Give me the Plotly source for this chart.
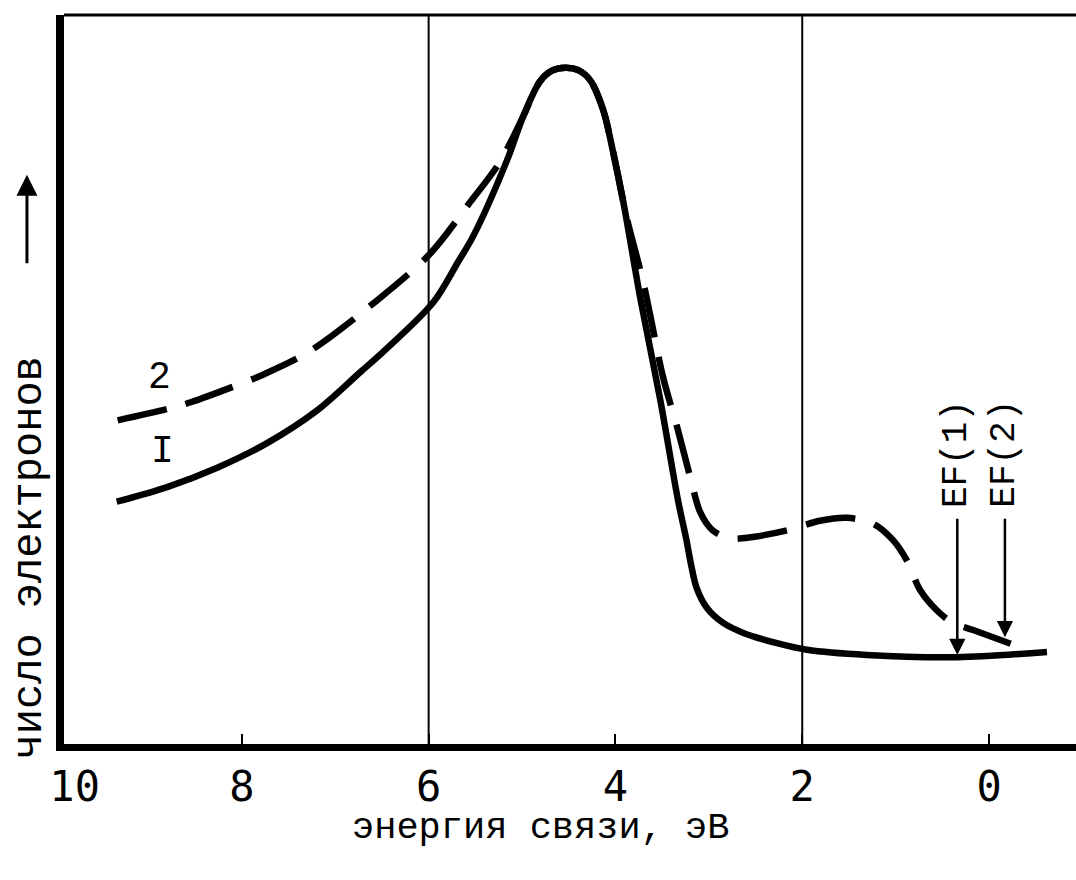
import plotly.graph_objects as go

# ---- data ----
energy_1 = [9.34, 8.80, 8.27, 7.73, 7.19, 6.73, 6.49, 5.95, 5.69, 5.52, 5.16, 4.99, 4.81,
            4.68, 4.54, 4.40, 4.27, 4.13, 4.03, 3.92, 3.73, 3.52, 3.33, 3.24, 3.19, 3.13,
            3.02, 2.85, 2.63, 2.27, 1.95, 1.31, 0.34, -0.62]
counts_1 = [33.6, 35.6, 38.2, 41.6, 46.1, 51.3, 54.0, 60.8, 66.2, 69.9, 80.2, 86.1, 90.9,
            92.4, 92.8, 92.5, 91.1, 87.0, 81.6, 74.8, 61.1, 47.5, 33.8, 28.4, 25.0, 21.8,
            19.1, 17.1, 15.7, 14.3, 13.4, 12.7, 12.4, 13.1]

energy_2 = [9.33, 8.75, 8.54, 7.99, 7.78, 7.29, 6.55, 5.98, 5.56, 5.24, 4.99, 4.81,
            4.68, 4.54, 4.40, 4.27, 4.13, 4.03, 3.88, 3.70, 3.49, 3.34, 3.20, 3.09,
            2.96, 2.77, 2.53, 2.16, 1.81, 1.52, 1.24, 1.03, 0.88, 0.74, 0.56, 0.39,
            0.17, -0.26]
counts_2 = [44.7, 46.4, 47.2, 49.8, 50.9, 54.0, 61.1, 67.5, 74.4, 79.9, 86.1, 90.9,
            92.4, 92.8, 92.5, 91.1, 87.0, 81.6, 72.4, 63.4, 50.6, 43.8, 37.0, 32.1,
            29.7, 28.6, 28.8, 29.7, 31.0, 31.4, 30.6, 28.4, 25.6, 21.6, 18.8, 17.1,
            16.1, 14.1]

tick_vals = [9.79, 8, 6, 4, 2, 0]
tick_text = ["10", "8", "6", "4", "2", "0"]
tick_marks = [8, 6, 4, 2, 0]
grid_lines = [6, 2]

fermi_levels = [0.34, -0.17]
fermi_heads = [12.7, 15.1]
fermi_tails = [31.5, 31.5]
fermi_labels = ["EF(1)", "EF(2)"]

curve_label_text = ["2", "I"]
curve_label_x = [8.88, 8.85]
curve_label_y = [50.6, 40.4]

x_title = "энергия связи, эВ"
y_title = "число электронов"

MONO = "Liberation Mono"

fig = go.Figure()
fig.add_trace(go.Scatter(x=energy_1, y=counts_1, mode="lines",
                         line=dict(color="black", width=6.5, shape="spline", smoothing=0.9)))
fig.add_trace(go.Scatter(x=energy_2, y=counts_2, mode="lines",
                         line=dict(color="black", width=6.5, shape="spline", smoothing=0.9,
                                   dash="50px,20px")))

for gx in grid_lines:
    fig.add_shape(type="line", x0=gx, x1=gx, xref="x", y0=0, y1=1, yref="paper",
                  line=dict(color="black", width=2), layer="below")
# top frame line
fig.add_shape(type="line", x0=0, x1=1, xref="paper", y0=1, y1=1, yref="paper",
              line=dict(color="black", width=3))

annotations = []
for fx, fh, ft, lab in zip(fermi_levels, fermi_heads, fermi_tails, fermi_labels):
    annotations.append(dict(x=fx, y=fh, xref="x", yref="y", ax=fx, ay=ft,
                            axref="x", ayref="y", text="", showarrow=True,
                            arrowhead=2, arrowsize=1.3, arrowwidth=2.5,
                            arrowcolor="black", standoff=0))
    annotations.append(dict(x=fx, y=ft + 1.0, xref="x", yref="y", text=lab,
                            showarrow=False, textangle=-90, yanchor="bottom",
                            xanchor="center",
                            font=dict(family=MONO, size=36, color="black")))
for t, cx, cy in zip(curve_label_text, curve_label_x, curve_label_y):
    annotations.append(dict(x=cx, y=cy, xref="x", yref="y", text=t, showarrow=False,
                            font=dict(family=MONO, size=38, color="black")))
# axis titles and upward arrow
annotations.append(dict(x=0.471, xref="paper", y=-0.115, yref="paper", text=x_title,
                        showarrow=False, xanchor="center", yanchor="middle",
                        font=dict(family=MONO, size=37, color="black")))
annotations.append(dict(x=-0.0336, xref="paper", y=26.0, yref="y", text=y_title,
                        textangle=-90, showarrow=False, xanchor="center", yanchor="middle",
                        font=dict(family=MONO, size=42, color="black")))
annotations.append(dict(x=-0.0366, xref="paper", y=78.2, yref="y", text="",
                        showarrow=True, ax=0, ay=90, axref="pixel", ayref="pixel",
                        arrowhead=2, arrowsize=1.4, arrowwidth=3, arrowcolor="black",
                        standoff=0))

fig.update_layout(
    width=1076, height=880,
    margin=dict(l=64, r=0, t=15, b=136),
    plot_bgcolor="white", paper_bgcolor="white",
    showlegend=False,
    annotations=annotations,
    xaxis=dict(range=[9.904, -0.931], tickvals=tick_vals, ticktext=tick_text,
               ticks="", showline=True, linewidth=7, linecolor="black",
               showgrid=False, zeroline=False,
               minor=dict(tickvals=tick_marks, ticks="inside", ticklen=10,
                          tickwidth=2, tickcolor="black", showgrid=False),
               tickfont=dict(family="DejaVu Sans Mono", size=42, color="black")),
    yaxis=dict(range=[0.55, 100], showticklabels=False, ticks="", showline=True,
               linewidth=8, linecolor="black", showgrid=False, zeroline=False),
)

fig.write_html("out.html")
